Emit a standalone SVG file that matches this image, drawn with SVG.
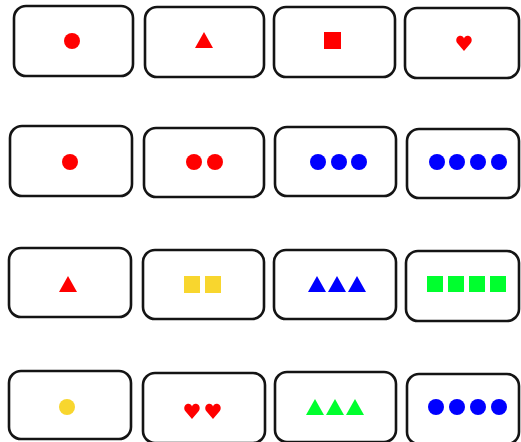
<svg xmlns="http://www.w3.org/2000/svg" xmlns:xlink="http://www.w3.org/1999/xlink" width="521" height="442" viewBox="0 0 521 442">
<style>
.card{fill:#fff;stroke:#141414;stroke-width:2.6}
.red{fill:#ff0000}
.blue{fill:#0000ff}
.green{fill:#00ff2e}
.yellow{fill:#f8d62e}
</style>
<defs>
<path id="tri" d="M9,0 L18,16 L0,16 Z"/>
<path id="heart" d="M8,16 L1.6,8.6 C-0.6,6 0,2.2 3,1.1 C5.4,0.3 7.2,1.5 8,3.4 C8.8,1.5 10.6,0.3 13,1.1 C16,2.2 16.6,6 14.4,8.6 Z"/>
</defs>
<rect width="521" height="442" fill="#fff"/>
<g id="r1c1"><rect class="card" x="14" y="6" width="119" height="70" rx="12"/><circle class="red" cx="72" cy="41" r="8"/></g>
<g id="r1c2"><rect class="card" x="145" y="7" width="119" height="70" rx="12"/><use href="#tri" xlink:href="#tri" class="red" x="195" y="32"/></g>
<g id="r1c3"><rect class="card" x="274" y="7" width="121" height="70" rx="12"/><rect class="red" x="324" y="32" width="17" height="17"/></g>
<g id="r1c4"><rect class="card" x="405" y="8" width="114" height="70" rx="12"/><use href="#heart" xlink:href="#heart" class="red" x="456" y="35"/></g>

<g id="r2c1"><rect class="card" x="10" y="126" width="122" height="70" rx="12"/><circle class="red" cx="70" cy="162" r="8"/></g>
<g id="r2c2"><rect class="card" x="144" y="128" width="120" height="69" rx="12"/><circle class="red" cx="194" cy="162" r="8"/><circle class="red" cx="215" cy="162" r="8"/></g>
<g id="r2c3"><rect class="card" x="275" y="127" width="121" height="69" rx="12"/><circle class="blue" cx="318" cy="162" r="8"/><circle class="blue" cx="339" cy="162" r="8"/><circle class="blue" cx="359" cy="162" r="8"/></g>
<g id="r2c4"><rect class="card" x="407" y="129" width="112" height="69" rx="12"/><circle class="blue" cx="437" cy="162" r="8"/><circle class="blue" cx="457" cy="162" r="8"/><circle class="blue" cx="478" cy="162" r="8"/><circle class="blue" cx="499" cy="162" r="8"/></g>

<g id="r3c1"><rect class="card" x="9" y="248" width="122" height="69" rx="12"/><use href="#tri" xlink:href="#tri" class="red" x="59" y="276"/></g>
<g id="r3c2"><rect class="card" x="143" y="250" width="121" height="69" rx="12"/><rect class="yellow" x="184" y="276" width="16" height="17"/><rect class="yellow" x="205" y="276" width="16" height="17"/></g>
<g id="r3c3"><rect class="card" x="274" y="250" width="122" height="69" rx="12"/><use href="#tri" xlink:href="#tri" class="blue" x="308" y="276"/><use href="#tri" xlink:href="#tri" class="blue" x="328" y="276"/><use href="#tri" xlink:href="#tri" class="blue" x="348" y="276"/></g>
<g id="r3c4"><rect class="card" x="406" y="251" width="113" height="70" rx="12"/><rect class="green" x="427" y="276" width="16" height="16"/><rect class="green" x="448" y="276" width="16" height="16"/><rect class="green" x="469" y="276" width="16" height="16"/><rect class="green" x="490" y="276" width="16" height="16"/></g>

<g id="r4c1"><rect class="card" x="9" y="371" width="122" height="68" rx="12"/><circle class="yellow" cx="67" cy="407" r="8"/></g>
<g id="r4c2"><rect class="card" x="143" y="373" width="122" height="70" rx="12"/><use href="#heart" xlink:href="#heart" class="red" x="184" y="403"/><use href="#heart" xlink:href="#heart" class="red" x="205" y="403"/></g>
<g id="r4c3"><rect class="card" x="275" y="372" width="121" height="70" rx="12"/><use href="#tri" xlink:href="#tri" class="green" x="306" y="399"/><use href="#tri" xlink:href="#tri" class="green" x="326" y="399"/><use href="#tri" xlink:href="#tri" class="green" x="346" y="399"/></g>
<g id="r4c4"><rect class="card" x="407" y="374" width="112" height="70" rx="12"/><circle class="blue" cx="436" cy="407" r="8"/><circle class="blue" cx="457" cy="407" r="8"/><circle class="blue" cx="478" cy="407" r="8"/><circle class="blue" cx="499" cy="407" r="8"/></g>
<g id="connectors"></g>
</svg>
